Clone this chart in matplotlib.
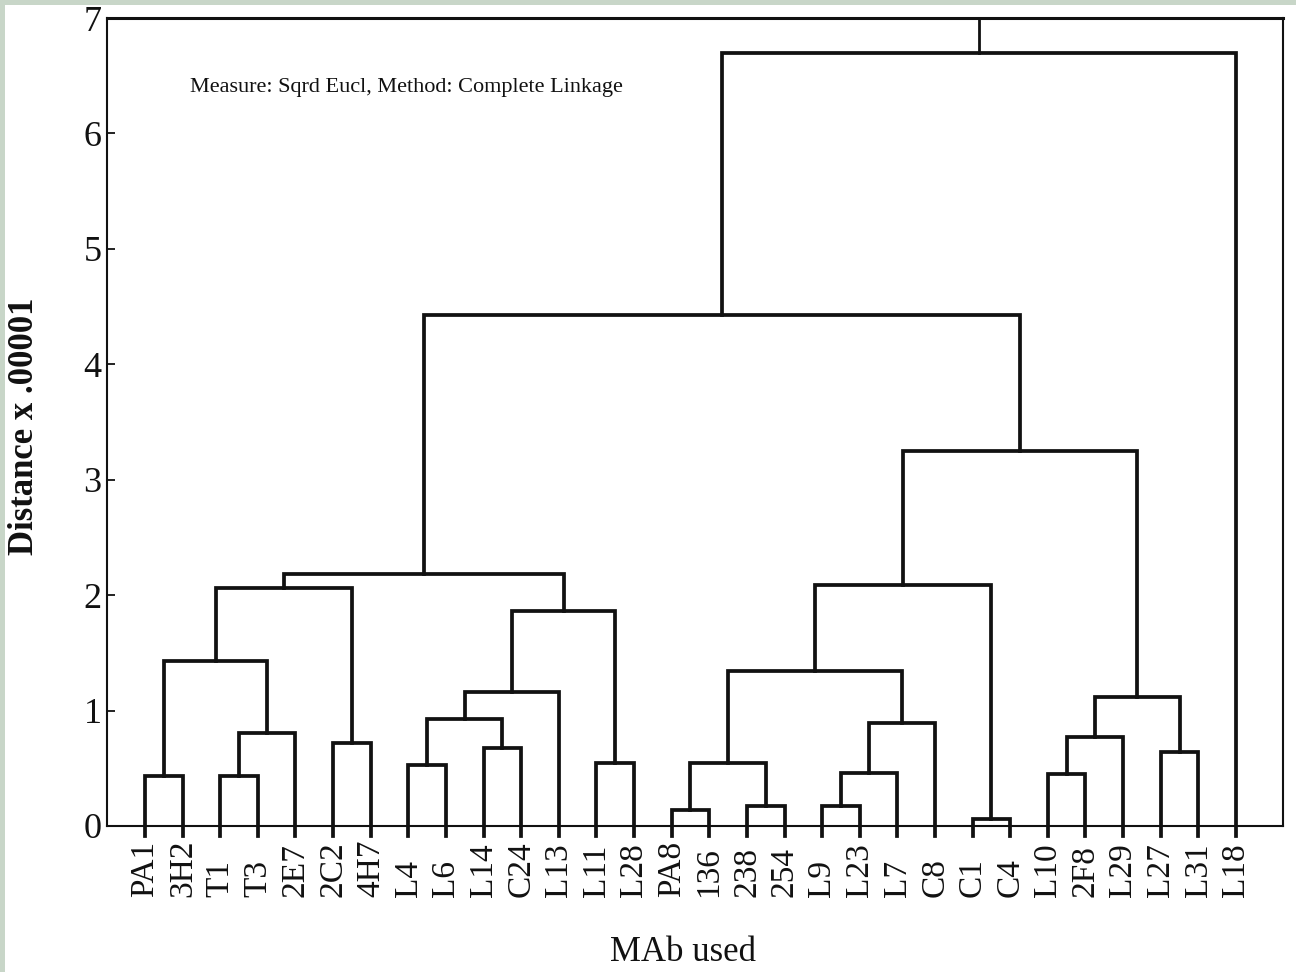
import numpy as np
import matplotlib
matplotlib.use("Agg")
import matplotlib.pyplot as plt
from matplotlib.patches import Rectangle
import matplotlib.transforms as mtransforms

# leaf order as printed under the tree
leaves = ["PA1", "3H2", "T1", "T3", "2E7", "2C2", "4H7", "L4", "L6", "L14",
          "C24", "L13", "L11", "L28", "PA8", "136", "238", "254", "L9", "L23",
          "L7", "C8", "C1", "C4", "L10", "2F8", "L29", "L27", "L31", "L18"]

# merges: (left child, right child, distance); ids < 30 are leaves,
# id 30 + k is the k-th merge in this list
merge_left = [0, 2, 31, 5, 30, 34, 7, 9, 36, 38, 12, 39, 35,
              14, 16, 43, 18, 46, 47, 45, 22, 49, 24, 52, 27, 53, 51, 42, 57]
merge_right = [1, 3, 4, 6, 32, 33, 8, 10, 37, 11, 13, 40, 41,
               15, 17, 44, 19, 20, 21, 48, 23, 50, 25, 26, 28, 54, 55, 56, 29]
merge_height = [0.43, 0.43, 0.81, 0.72, 1.43, 2.06, 0.53, 0.68, 0.93, 1.16, 0.55, 1.86, 2.18,
                0.14, 0.17, 0.55, 0.17, 0.46, 0.89, 1.34, 0.06, 2.09, 0.45, 0.77, 0.64, 1.12,
                3.25, 4.43, 6.70]

y_ticks = [0, 1, 2, 3, 4, 5, 6, 7]
annotation = "Measure: Sqrd Eucl, Method: Complete Linkage"

SERIF = ["Liberation Serif", "DejaVu Serif"]
LINE = "#111111"


def node_positions():
    n = len(leaves)
    xs = {i: float(i) for i in range(n)}
    hs = {i: 0.0 for i in range(n)}
    for k, (a, b, h) in enumerate(zip(merge_left, merge_right, merge_height)):
        xs[n + k] = (xs[a] + xs[b]) / 2.0
        hs[n + k] = h
    return xs, hs


def main():
    fig = plt.figure(figsize=(12.96, 9.72), dpi=100, facecolor="white")
    # scanned page border
    fig.patches.append(Rectangle((0, 0), 5 / 1296, 1, transform=fig.transFigure,
                                 facecolor="#c8d6c8", edgecolor="none"))
    fig.patches.append(Rectangle((0, 1 - 5 / 972), 1, 5 / 972, transform=fig.transFigure,
                                 facecolor="#c8d6c8", edgecolor="none"))

    ax = fig.add_axes([107 / 1296, 1 - 826 / 972, 1176 / 1296, 808 / 972])
    xs, hs = node_positions()
    n = len(leaves)
    base = -0.09  # leaf stems poke a little below the axis line

    for k, (a, b, h) in enumerate(zip(merge_left, merge_right, merge_height)):
        ya = base if a < n else hs[a]
        yb = base if b < n else hs[b]
        ax.plot([xs[a], xs[a], xs[b], xs[b]], [ya, h, h, yb],
                color=LINE, lw=2.7, solid_joinstyle="miter", clip_on=False, zorder=3)
    root = n + len(merge_height) - 1
    ax.plot([xs[root], xs[root]], [hs[root], 7], color=LINE, lw=2.0, clip_on=False, zorder=3)

    ax.set_xlim(-1.01, 30.25)
    ax.set_ylim(0, 7)
    ax.set_xticks([])
    ax.set_yticks(y_ticks)
    ax.set_yticklabels([str(t) for t in y_ticks], family=SERIF, fontsize=26)
    ax.tick_params(axis="y", direction="in", length=6, width=1.3, pad=4, colors=LINE)
    for s in ax.spines.values():
        s.set_linewidth(1.5)
        s.set_color(LINE)
    ax.spines["top"].set_linewidth(2.2)

    trans = mtransforms.blended_transform_factory(ax.transData, ax.transAxes)
    for i, name in enumerate(leaves):
        ax.text(i, -0.0879, name, transform=trans, rotation=90, ha="center", va="bottom",
                family=SERIF, fontsize=24, color=LINE)

    ax.text(0.0706, 0.9146, annotation, transform=ax.transAxes, ha="left", va="center",
            family=SERIF, fontsize=16, color=LINE)

    fig.text(25 / 1296, 1 - 426 / 972, "Distance x .00001", rotation=90, ha="center",
             va="center", family=SERIF, fontsize=25, fontweight="bold", color=LINE)
    fig.text(683 / 1296, 1 - 952 / 972, "MAb used", ha="center", va="center",
             family=SERIF, fontsize=25, color=LINE)

    fig.savefig("out.png", dpi=100, facecolor="white")


if __name__ == "__main__":
    main()
